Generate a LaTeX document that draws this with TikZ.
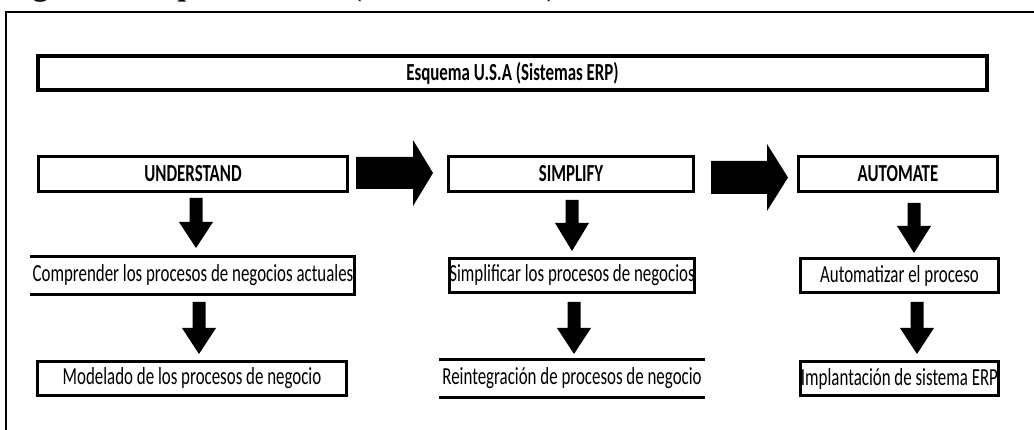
\documentclass[tikz,border=0pt]{standalone}
\usepackage{fontspec}
\setmainfont{Liberation Serif}
\newfontfamily\calfont[FakeStretch=0.69]{Carlito}
\usetikzlibrary{calc}
\newcommand\harrow[6]{\fill (#1,{#4-#5}) -- (#2,{#4-#5}) -- (#2,{#4-#6}) -- (#3,#4) -- (#2,{#4+#6}) -- (#2,{#4+#5}) -- (#1,{#4+#5}) -- cycle;}
\newcommand\varrow[4]{\fill ({#1-6.5},#2) -- ({#1+6.5},#2) -- ({#1+6.5},#3) -- ({#1+17},#3) -- (#1,#4) -- ({#1-17},#3) -- ({#1-6.5},#3) -- cycle;}
\begin{document}
\begin{tikzpicture}[x=1pt,y=-1pt,
  box/.style={draw, line width=3pt, inner sep=0pt, minimum height=35pt,
    font=\calfont\fontsize{24.5}{26}\selectfont},
  openbox/.style={box, draw=none},
  edge/.style={line width=3pt, line cap=rect}]
\useasboundingbox (0,0) rectangle (1034,430);
\clip (0,0) rectangle (1034,430);
\fill[white] (0,0) rectangle (1034,430);
% cropped caption
\node[anchor=base west, inner sep=0pt, font={\fontsize{31pt}{31pt}\selectfont\bfseries}] (cap) at (5,-4) {Figura 1. Esquema U.S.A (Sistemas ERP)};
% outer frame
\draw[line width=1.3pt] (6,440) -- (6,12) -- (1040,12);
% title
\node[box, line width=4pt, minimum width=949pt, minimum height=34pt] (title) at (512.5,73) {\bfseries Esquema U.S.A (Sistemas ERP)};
% row 2
\node[box, minimum width=309pt] (u) at (193,174) {\bfseries UNDERSTAND};
\node[box, minimum width=245pt] (s) at (571,174) {\bfseries SIMPLIFY};
\node[box, minimum width=199pt] (a) at (898,174) {\bfseries AUTOMATE};
% row 3
\node[openbox, minimum width=310pt] (c) at (193,275.5) {Comprender los procesos de negocios actuales};
\draw[edge] (c.north west) -- (c.north east) -- (c.south east) -- (c.south west);
\node[box, minimum width=245pt, minimum height=34pt] (sp) at (572,275.5) {Simplificar los procesos de negocios};
\node[box, minimum width=198pt, minimum height=34pt] (au) at (899.5,275.5) {Automatizar el proceso};
% row 4
\node[box, minimum width=309pt, minimum height=34pt] (m) at (192,378.5) {Modelado de los procesos de negocio};
\node[openbox, minimum width=248pt] (r) at (572,378.5) {Reintegración de procesos de negocio};
\draw[edge] (r.north west) -- (r.north east);
\draw[edge] (r.south west) -- (r.south east);
\node[box, minimum width=198pt, minimum height=34pt] (i) at (899.5,378.5) {Implantación de sistema ERP};
% big right arrows
\harrow{356}{413}{433}{173}{16}{33}
\harrow{711}{767}{788}{177.5}{16.5}{33.5}
% down arrows
\varrow{196}{198}{222}{248}
\varrow{199}{302}{328}{354}
\varrow{572}{200}{223}{251}
\varrow{574}{302}{328}{354}
\varrow{914}{203}{226}{253}
\varrow{917}{302}{328}{354}
\end{tikzpicture}
\end{document}
